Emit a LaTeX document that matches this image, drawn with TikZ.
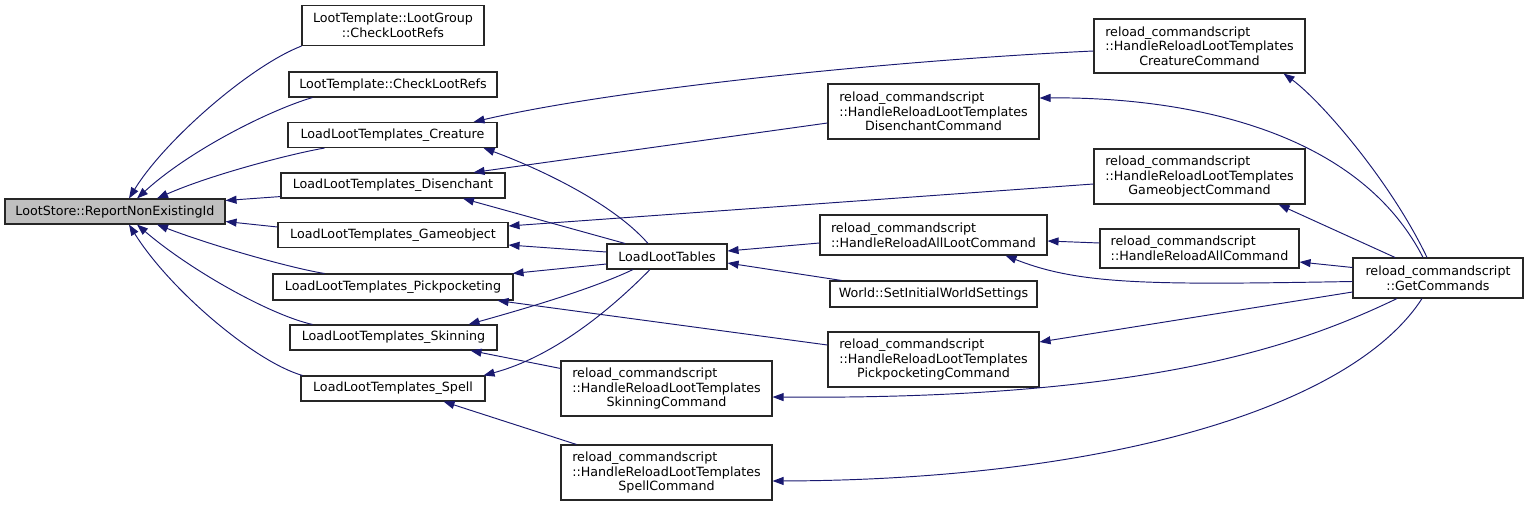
\documentclass[tikz,border=0pt]{standalone}
\usepackage{fontspec}
\setmainfont{DejaVu Sans}
\usetikzlibrary{arrows.meta,calc}
\definecolor{edgeblue}{HTML}{191970}
\definecolor{boxgray}{HTML}{BFBFBF}
\newlength\lalen
\newcommand\lalign[2]{\settowidth\lalen{#2}\makebox[\lalen][l]{#1}}
\tikzset{
  fn/.style={draw=black!85, line width=1.1pt, fill=white, inner sep=0pt, align=center,
    font=\fontsize{12.7}{14.6}\selectfont},
  edge/.style={draw=edgeblue, line width=0.95pt, -{Triangle[length=11pt,width=8pt]}},
}
\begin{document}
\begin{tikzpicture}[x=1pt,y=-1pt]
\useasboundingbox (0,0) rectangle (1528,506);
% nodes
\node[fn, fill=boxgray, minimum width=220pt, minimum height=25pt] (rep) at (115,211.5) {LootStore::ReportNonExistingId};
\node[fn, minimum width=182pt, minimum height=40pt] (lg) at (393,25.5) {LootTemplate::LootGroup\\::CheckLootRefs};
\node[fn, minimum width=208pt, minimum height=25pt] (lt) at (393,84.5) {LootTemplate::CheckLootRefs};
\node[fn, minimum width=209pt, minimum height=25pt] (cre) at (392.5,135) {LoadLootTemplates\_Creature};
\node[fn, minimum width=224pt, minimum height=25pt] (dis) at (393,185.5) {LoadLootTemplates\_Disenchant};
\node[fn, minimum width=230pt, minimum height=25pt] (gam) at (393,235) {LoadLootTemplates\_Gameobject};
\node[fn, minimum width=240pt, minimum height=26pt] (pick) at (393,287) {LoadLootTemplates\_Pickpocketing};
\node[fn, minimum width=207pt, minimum height=25pt] (skin) at (393.5,337.5) {LoadLootTemplates\_Skinning};
\node[fn, minimum width=184pt, minimum height=25pt] (spell) at (393,388.5) {LoadLootTemplates\_Spell};
\node[fn, minimum width=120pt, minimum height=25pt] (llt) at (667,256.5) {LoadLootTables};
\node[fn, minimum width=211pt, minimum height=54pt] (creC) at (1199.5,46) {\lalign{reload\_commandscript}{::HandleReloadLootTemplates}\\::HandleReloadLootTemplates\\CreatureCommand};
\node[fn, minimum width=211pt, minimum height=55pt] (disC) at (933.5,111.5) {\lalign{reload\_commandscript}{::HandleReloadLootTemplates}\\::HandleReloadLootTemplates\\DisenchantCommand};
\node[fn, minimum width=211pt, minimum height=55pt] (gamC) at (1199.5,176.5) {\lalign{reload\_commandscript}{::HandleReloadLootTemplates}\\::HandleReloadLootTemplates\\GameobjectCommand};
\node[fn, minimum width=227pt, minimum height=40pt] (rall) at (933.5,235) {\lalign{reload\_commandscript}{::HandleReloadAllLootCommand}\\::HandleReloadAllLootCommand};
\node[fn, minimum width=199pt, minimum height=39pt] (rallc) at (1199.5,248.5) {\lalign{reload\_commandscript}{::HandleReloadAllCommand}\\::HandleReloadAllCommand};
\node[fn, minimum width=207pt, minimum height=26pt] (world) at (933.5,294) {World::SetInitialWorldSettings};
\node[fn, minimum width=211pt, minimum height=55pt] (pickC) at (933.5,359.5) {\lalign{reload\_commandscript}{::HandleReloadLootTemplates}\\::HandleReloadLootTemplates\\PickpocketingCommand};
\node[fn, minimum width=211pt, minimum height=55pt] (skinC) at (666.5,388.5) {\lalign{reload\_commandscript}{::HandleReloadLootTemplates}\\::HandleReloadLootTemplates\\SkinningCommand};
\node[fn, minimum width=211pt, minimum height=55pt] (spellC) at (666.5,472.5) {\lalign{reload\_commandscript}{::HandleReloadLootTemplates}\\::HandleReloadLootTemplates\\SpellCommand};
\node[fn, minimum width=170pt, minimum height=40pt] (getc) at (1438,278) {reload\_commandscript\\::GetCommands};
% edges into rep
\draw[edge] (lg.south west) .. controls (250,66) and (165,140) .. ($(rep.north)+(14,0)$);
\draw[edge] ($(lt.south west)+(24,0)$) .. controls (270,110) and (190,150) .. ($(rep.north)+(22,0)$);
\draw[edge] ($(cre.south west)+(37,0)$) .. controls (290,154) and (210,175) .. ($(rep.north)+(42,0)$);
\draw[edge] ($(dis.south west)+(0,-2)$) -- ($(rep.east)+(0,-11)$);
\draw[edge] ($(gam.west)+(0,-8)$) -- ($(rep.east)+(0,10)$);
\draw[edge] ($(pick.north west)+(52,0)$) .. controls (290,268) and (210,245) .. ($(rep.south)+(42,0)$);
\draw[edge] ($(skin.north west)+(23,0)$) .. controls (270,315) and (190,270) .. ($(rep.south)+(22,0)$);
\draw[edge] ($(spell.north west)+(2,0)$) .. controls (255,362) and (170,290) .. ($(rep.south)+(14,0)$);
% edges from LoadLootTables
\draw[edge] ($(llt.north)+(-19,0)$) .. controls (610,200) and (530,165) .. ($(cre.south east)+(-14,0)$);
\draw[edge] ($(llt.north)+(-42,0)$) -- ($(dis.south)+(70,0)$);
\draw[edge] ($(llt.west)+(0,-4.5)$) -- ($(gam.east)+(0,10)$);
\draw[edge] ($(llt.west)+(0,7.5)$) -- ($(pick.north east)+(-1,0)$);
\draw[edge] ($(llt.south)+(-34,0)$) .. controls (590,290) and (520,310) .. ($(skin.north east)+(-29,0)$);
\draw[edge] ($(llt.south)+(-17,0)$) .. controls (620,300) and (560,355) .. ($(spell.north east)+(-2,0)$);
% command edges into loaders
\draw[edge] ($(creC.west)+(0,5)$) .. controls (900,60) and (620,88) .. ($(cre.north east)+(-24,0)$);
\draw[edge] ($(disC.west)+(0,11.5)$) -- ($(dis.north east)+(-32,0)$);
\draw[edge] ($(gamC.west)+(0,7.5)$) -- ($(gam.east)+(0,-9)$);
\draw[edge] ($(pickC.west)+(0,-14.5)$) -- ($(pick.south east)+(-16,0)$);
\draw[edge] ($(skinC.north west)+(0,8)$) -- ($(skin.south east)+(-27,0)$);
\draw[edge] ($(spellC.north west)+(16,0)$) -- ($(spell.south east)+(-42,0)$);
% into LoadLootTables
\draw[edge] ($(rall.west)+(0,8)$) -- ($(llt.east)+(0,-5.5)$);
\draw[edge] ($(world.north west)+(12,0)$) -- ($(llt.east)+(0,6.5)$);
% into HandleReloadAllLootCommand
\draw[edge] ($(rallc.west)+(0,-5.5)$) -- ($(rall.east)+(0,6)$);
\draw[edge] ($(getc.west)+(0,3.5)$) .. controls (1150,285) and (1080,285) .. ($(rall.south east)+(-42,0)$);
% from GetCommands
\draw[edge] ($(getc.west)+(0,-10.5)$) -- ($(rallc.east)+(0,13.5)$);
\draw[edge] ($(getc.north)+(-11,0)$) .. controls (1390,180) and (1320,100) .. ($(creC.south east)+(-22,0)$);
\draw[edge] ($(getc.north)+(-15,0)$) .. controls (1350,115) and (1150,97) .. ($(disC.east)+(0,-13.5)$);
\draw[edge] ($(getc.north)+(-43,0)$) -- ($(gamC.south east)+(-27,0)$);
\draw[edge] ($(getc.west)+(0,14)$) -- ($(pickC.east)+(0,-17.5)$);
\draw[edge] ($(getc.south)+(-41,0)$) .. controls (1300,345) and (1150,400) .. ($(skinC.east)+(0,8.5)$);
\draw[edge] ($(getc.south)+(-16,0)$) .. controls (1350,410) and (1100,480) .. ($(spellC.east)+(0,8.5)$);
\end{tikzpicture}
\end{document}
